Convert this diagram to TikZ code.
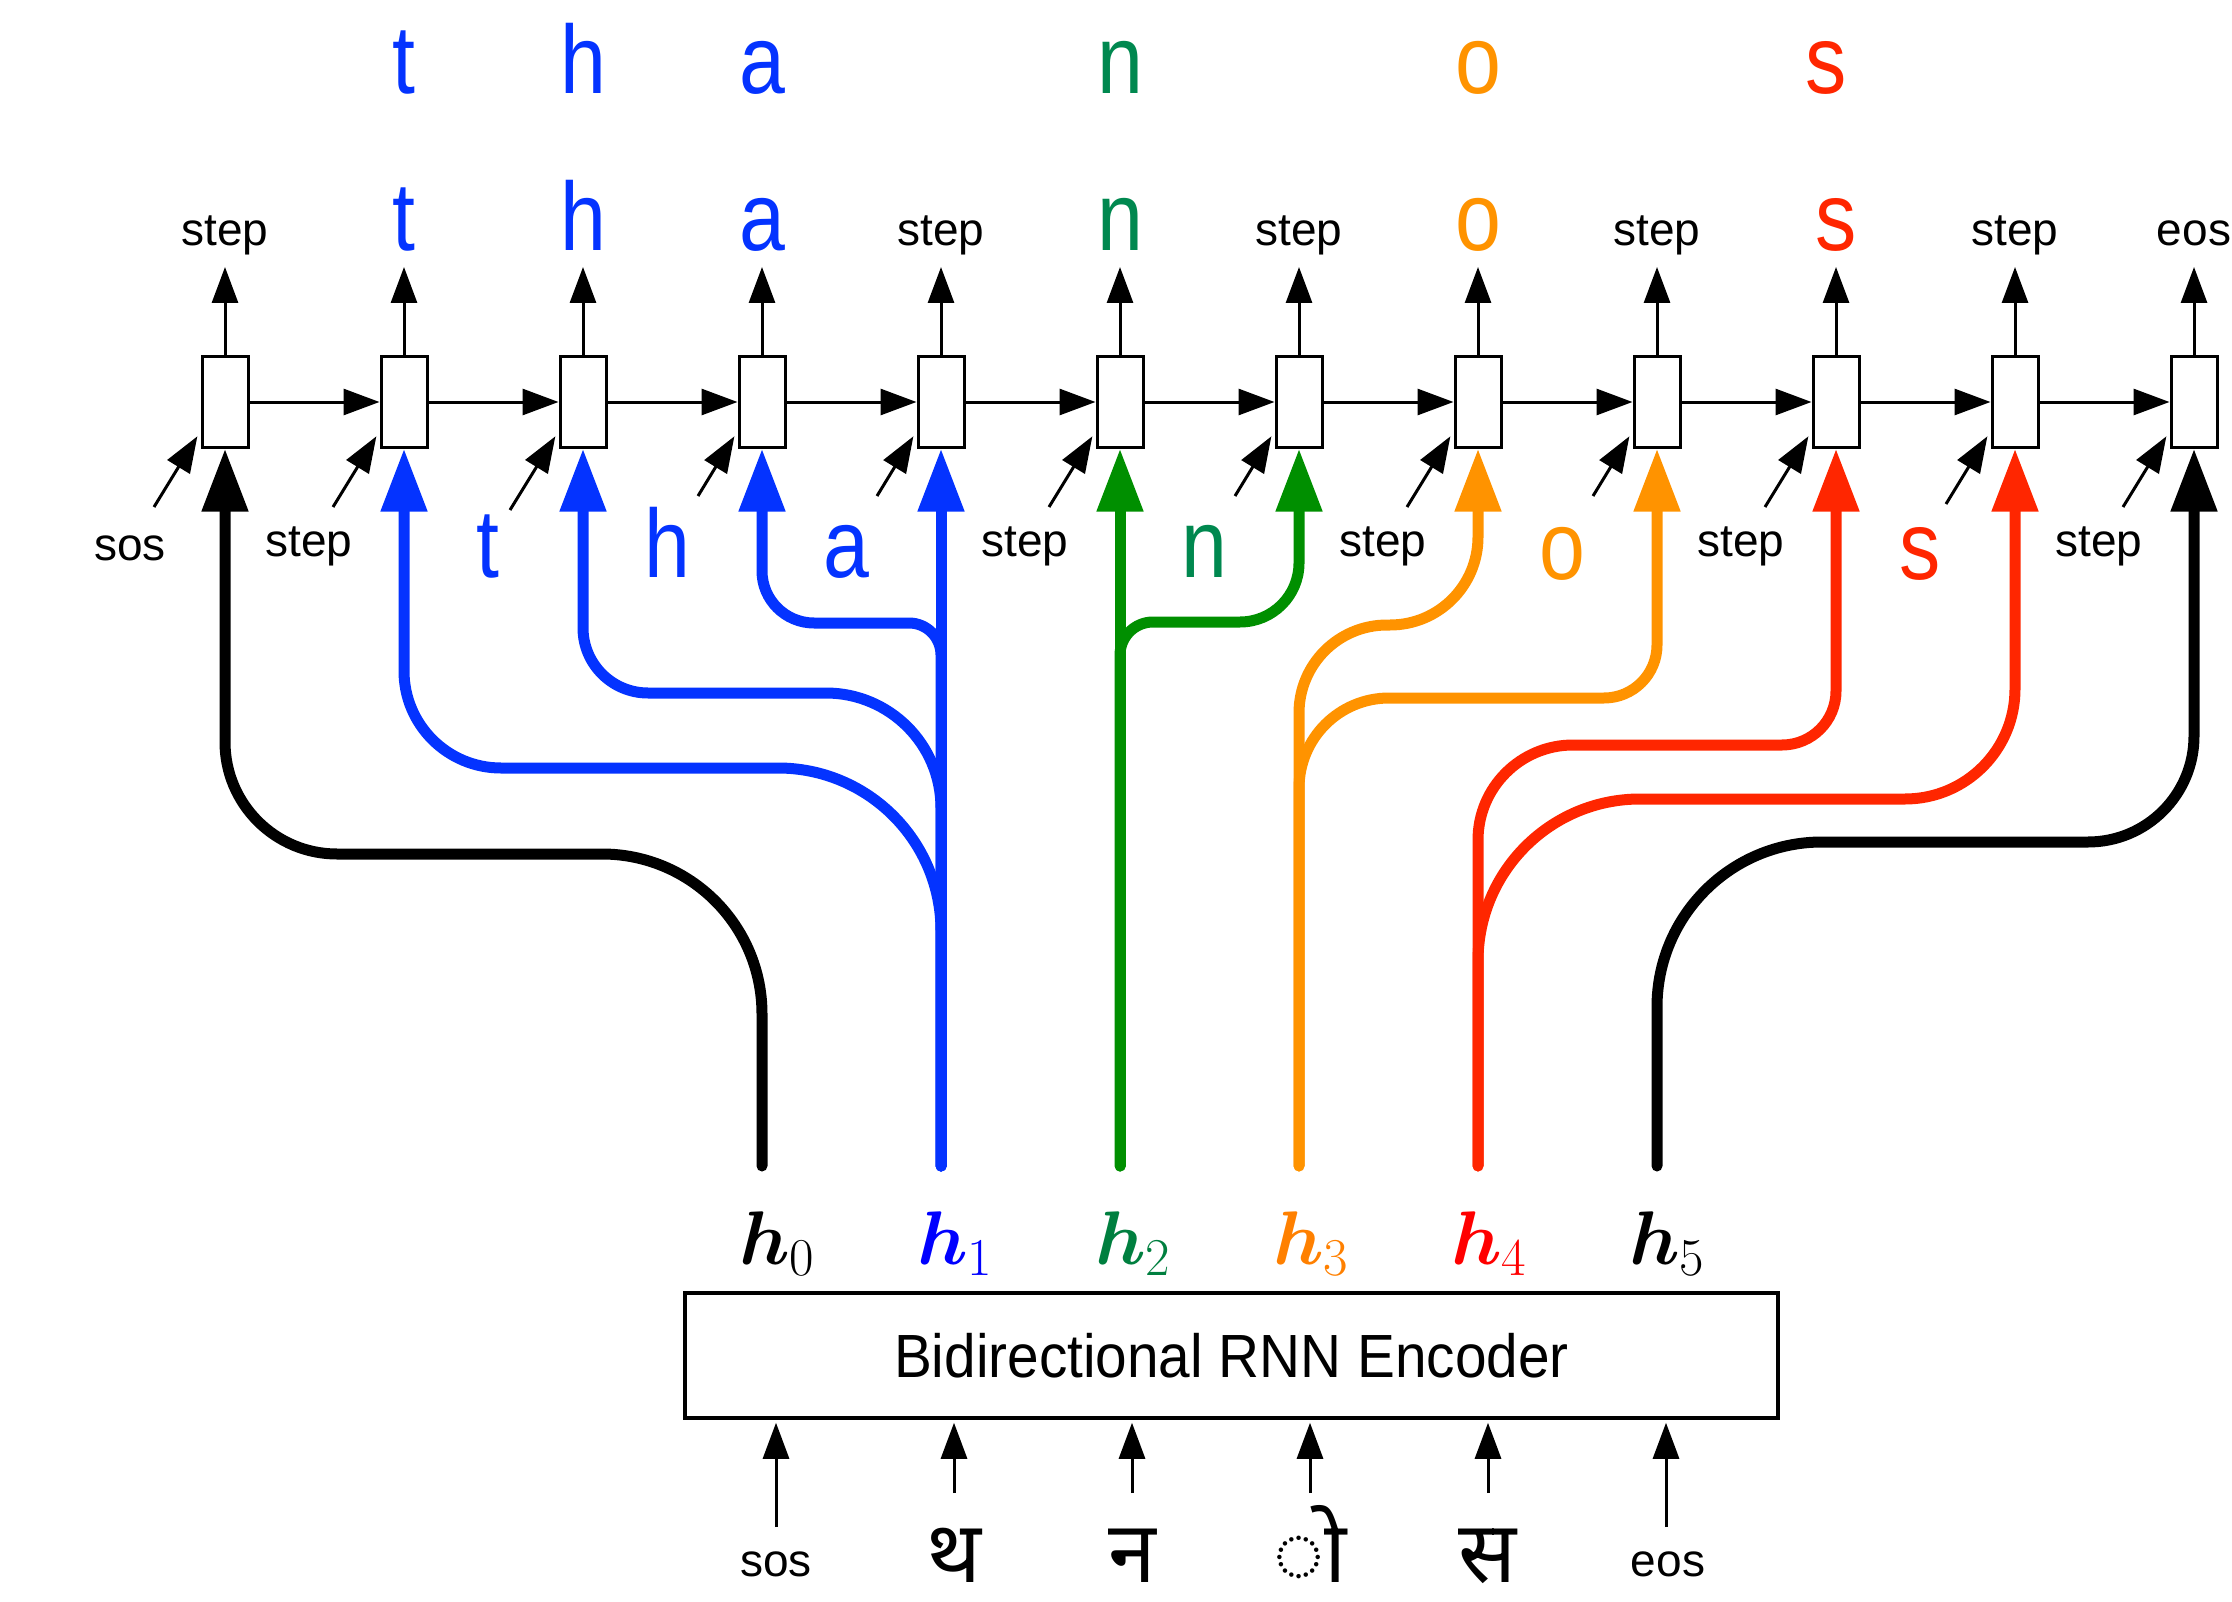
\RequirePackage{fix-cm}
\documentclass[tikz,border=0pt]{standalone}
\usepackage{amsmath}
\usepackage[no-math]{fontspec}
\setmainfont{Liberation Sans}
\newfontfamily\narrowfont{Liberation Sans}[FakeStretch=0.85]
\newfontfamily\encfont{Liberation Sans}[FakeStretch=0.93]
\newfontfamily\devfont{Noto Sans}[Script=Devanagari]
\usetikzlibrary{arrows.meta,calc}

\definecolor{lblue}{HTML}{0433FF}
\definecolor{lgreen}{HTML}{008F00}
\definecolor{ngreen}{HTML}{00884F}
\definecolor{lorange}{HTML}{FF9300}
\definecolor{lred}{HTML}{FF2600}
\definecolor{hblue}{HTML}{0000FF}
\definecolor{hgreen}{HTML}{007F3F}
\definecolor{horange}{HTML}{FF8000}
\definecolor{hred}{HTML}{FF0000}

\begin{document}
\begin{tikzpicture}[
		x=1pt, y=-1pt,
		>={Triangle[length=36pt,width=26pt]},
		cell/.style={
			draw,
			line width=3pt,
			fill=white,
			minimum width=46pt,
			minimum height=90pt,
			inner sep=0pt
		},
		thinarrow/.style={->, line width=3pt},
		feed/.style={line width=11pt, line cap=round, -{Triangle[length=63pt,width=44pt]}},
		lbl/.style={anchor=base, inner sep=0pt, font=\fontsize{46}{50}\selectfont},
		bigl/.style={anchor=base, inner sep=0pt, font=\narrowfont\fontsize{97}{100}\selectfont},
		devl/.style={anchor=base, inner sep=0pt, text depth=0pt, font=\devfont\fontsize{86}{90}\selectfont}
		]
		\useasboundingbox (0,0) rectangle (2232,1602);
		
		%--------------------------------------------------
		% Decoder cells
		%--------------------------------------------------
		
		\foreach \i in {0,...,11}
		\node[cell] (c\i) at (225+179*\i, 402) {};
		
		\foreach \i [count=\j] in {0,...,10}
		\draw[thinarrow] (c\i) -- (c\j);
		
		\foreach \i in {0,...,11}{
			\coordinate (up\i) at (225+179*\i, 267);
			\draw[thinarrow] (c\i.north) -- (up\i);
		}
		
		\foreach \i/\dx/\dy in {0/44/69, 1/44/69, 2/46/72, 3/37/58, 4/37/58, 5/44/69,
			6/37/58, 7/44/69, 8/37/58, 9/44/69, 10/42/66, 11/44/69}{
			\coordinate (in\i) at (198+179*\i-\dx, 438+\dy);
			\draw[thinarrow, shorten >=6pt] (in\i) -- (c\i.230);
		}
		
		%--------------------------------------------------
		% Labels
		%--------------------------------------------------
		
		\foreach \i/\txt in {1/t, 2/h, 3/a}
		\node[bigl, text=lblue] (w\i) at (225+179*\i, 94) {\txt};
		\node[bigl, text=ngreen] (w5) at (1120, 94) {n};
		\node[bigl, text=lorange] (w7) at (1478, 94) {o};
		\node[bigl, text=lred] (w9) at (1826, 94) {s};
		
		\foreach \i/\txt/\f/\c/\b in {0/step/lbl/black/246, 1/t/bigl/lblue/251,
			2/h/bigl/lblue/251, 3/a/bigl/lblue/251, 4/step/lbl/black/246,
			5/n/bigl/ngreen/251, 6/step/lbl/black/246, 7/o/bigl/lorange/251,
			8/step/lbl/black/246, 9/s/bigl/lred/251, 10/step/lbl/black/246,
			11/eos/lbl/black/246}
		\node[\f, text=\c] (hi\i) at (225+179*\i, \b) {\txt};
		
		\foreach \i/\txt/\f/\c/\b in {0/sos/lbl/black/560, 1/step/lbl/black/556,
			2/t/bigl/lblue/577, 3/h/bigl/lblue/577, 4/a/bigl/lblue/577,
			5/step/lbl/black/556, 6/n/bigl/ngreen/577, 7/step/lbl/black/556,
			8/o/bigl/lorange/579, 9/step/lbl/black/556, 10/s/bigl/lred/579,
			11/step/lbl/black/556}
		\node[\f, text=\c] (lo\i) at (130+179*\i, \b) {\txt};
		
		%--------------------------------------------------
		% Encoder
		%--------------------------------------------------
		
		\node[draw, line width=3.5pt, minimum width=1093pt, minimum height=125pt,
		inner sep=0pt, font=\encfont\fontsize{61}{64}\selectfont]
		(enc) at (1231.5, 1355.5) {Bidirectional RNN Encoder};
		
		\foreach \k/\c in {0/black, 1/hblue, 2/hgreen, 3/horange, 4/hred, 5/black}{
			\node[anchor=base, inner sep=0pt, text=\c, font=\fontsize{76}{80}\selectfont]
			(h\k) at (777+178*\k, 1264) {$\boldsymbol{h}_{\k}$};
			\coordinate (e\k) at (762+179*\k, 1166);
		}
		
		\node[lbl] (src0) at (776, 1576) {sos};
		\node[devl] (src1) at (954, 1582) {थ};
		\node[devl] (src2) at (1132, 1582) {न};
		\node[devl] (src3) at (1310, 1582) {◌ो};
		\node[devl] (src4) at (1488, 1582) {स};
		\node[lbl] (src5) at (1668, 1576) {eos};
		
		\foreach \k/\y in {0/1527, 1/1493, 2/1493, 3/1493, 4/1493, 5/1527}{
			\coordinate (a\k) at (776+178*\k, \y);
			\draw[thinarrow, shorten >=3pt] (a\k) -- (a\k |- enc.south);
		}
		
		%--------------------------------------------------
		% Connections
		%--------------------------------------------------
		
		\draw[feed] (e0) [rounded corners=160pt] -- (e0 |- 0,854)
		[rounded corners=112pt] -| (c0.south);
		
		\draw[feed, lblue] (e1) -- (c4.south);
		\draw[feed, lblue] (e1) [rounded corners=163pt] -- (e1 |- 0,768)
		[rounded corners=97pt] -| (c1.south);
		\draw[feed, lblue] (e1) [rounded corners=115pt] -- (e1 |- 0,693)
		[rounded corners=65pt] -| (c2.south);
		\draw[feed, lblue] (e1) [rounded corners=32pt] -- (e1 |- 0,623)
		[rounded corners=52pt] -| (c3.south);
		
		\draw[feed, lgreen] (e2) -- (c5.south);
		\draw[feed, lgreen] (e2) [rounded corners=33pt] -- (e2 |- 0,622)
		[rounded corners=59pt] -| (c6.south);
		
		\draw[feed, lorange] (e3) [rounded corners=88pt] |- (c7 |- 0,625)
		-- (c7.south);
		\draw[feed, lorange] (e3) [rounded corners=90pt] -- (e3 |- 0,698)
		[rounded corners=53pt] -| (c8.south);
		
		\draw[feed, lred] (e4) [rounded corners=95pt] -- (e4 |- 0,745)
		[rounded corners=54pt] -| (c9.south);
		\draw[feed, lred] (e4) [rounded corners=162pt] -- (e4 |- 0,799)
		[rounded corners=110pt] -| (c10.south);
		
		\draw[feed] (e5) [rounded corners=165pt] -- (e5 |- 0,842)
		[rounded corners=106pt] -| (c11.south);
		
	\end{tikzpicture}
\end{document}
